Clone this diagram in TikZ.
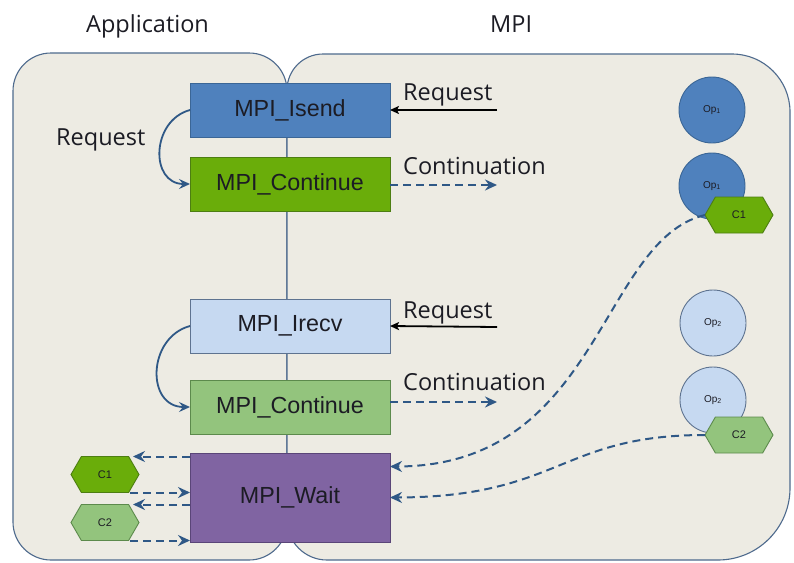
\documentclass[tikz,border=0pt]{standalone}
\usepackage{fontspec}
\setmainfont{Liberation Sans}
\newfontfamily\labelfont{Open Sans}
\usetikzlibrary{arrows.meta,shapes.symbols}
\definecolor{panelfill}{HTML}{EDEBE3}
\definecolor{paneldraw}{HTML}{4E6A8D}
\definecolor{isendc}{HTML}{4F81BD}
\definecolor{isendd}{HTML}{3B6696}
\definecolor{greenc}{HTML}{6AAD0A}
\definecolor{greend}{HTML}{4D7E12}
\definecolor{irecvc}{HTML}{C6D9F1}
\definecolor{irecvd}{HTML}{5E7390}
\definecolor{lgreenc}{HTML}{93C47D}
\definecolor{lgreend}{HTML}{5C8A4C}
\definecolor{waitc}{HTML}{8064A2}
\definecolor{waitd}{HTML}{5A4578}
\definecolor{arrowc}{HTML}{2F5886}
\definecolor{txtc}{HTML}{1C1C24}
\begin{document}
\begin{tikzpicture}[x=1pt,y=-1pt,
  panel/.style={fill=panelfill,draw=paneldraw,line width=1.1pt},
  box/.style={draw,line width=0.9pt,minimum width=200pt,minimum height=54pt,
    inner sep=0pt,outer sep=0pt,font=\fontsize{23.3}{26}\selectfont,text=txtc},
  lbl/.style={font=\labelfont\fontsize{23.5}{26}\selectfont,text=txtc,inner sep=0pt,anchor=base west},
  opcircle/.style={circle,draw,line width=0.9pt,minimum size=66pt,inner sep=0pt,
    font=\fontsize{10}{11}\selectfont,text=txtc},
  hexa/.style={signal,signal to=east and west,signal pointer angle=120,draw,line width=0.9pt,
    minimum width=68pt,minimum height=36pt,inner sep=0pt,outer sep=0pt,
    font=\fontsize{11}{12}\selectfont,text=txtc},
  dasharrow/.style={draw=arrowc,line width=2pt,dash pattern=on 8pt off 5pt,
    -{Stealth[length=12pt,width=11pt,inset=4pt]}},
  curvarrow/.style={draw=arrowc,line width=1.8pt,-{Stealth[length=11pt,width=10pt,inset=4pt]}},
  reqarrow/.style={draw=black,line width=1.8pt,-{Stealth[length=9pt,width=8pt,inset=2pt]}}
]
\useasboundingbox (0,0) rectangle (794,562);
\fill[white] (0,0) rectangle (794,562);

% panels
\draw[panel,rounded corners=38pt] (13,53) rectangle (287,560);
\draw[panel] (287,300) [rounded corners=36pt] -- (287,54) [rounded corners=58pt] -- (790,54)
  [rounded corners=72pt] -- (790,560) [rounded corners=40pt] -- (287,560) [sharp corners] -- cycle;

% titles
\node[lbl] (tapp) at (86,32) {Application};
\node[lbl] (tmpi) at (490,32) {MPI};

% main boxes
\node[box,fill=isendc,draw=isendd] (isend) at (290,110) {MPI\_Isend};
\node[box,fill=greenc,draw=greend] (cont1) at (290,184) {MPI\_Continue};
\node[box,fill=irecvc,draw=irecvd] (irecv) at (290,326) {MPI\_Irecv};
\node[box,fill=lgreenc,draw=lgreend] (cont2) at (290,407) {MPI\_Continue};
\node[box,fill=waitc,draw=waitd,minimum height=89pt] (wait) at (290,497.5) {MPI\_Wait};

% operation circles and continuation hexagons
\node[opcircle,fill=isendc,draw=isendd] (op1a) at (712,110) {Op\textsubscript{1}};
\node[opcircle,fill=isendc,draw=isendd] (op1b) at (712,186) {Op\textsubscript{1}};
\node[hexa,fill=greenc,draw=greend] (c1r) at (739,215) {C1};
\node[opcircle,fill=irecvc,draw=irecvd] (op2a) at (713,323) {Op\textsubscript{2}};
\node[opcircle,fill=irecvc,draw=irecvd] (op2b) at (713,400) {Op\textsubscript{2}};
\node[hexa,fill=lgreenc,draw=lgreend] (c2r) at (739,435) {C2};

\node[hexa,fill=greenc,draw=greend] (c1l) at (105,474.5) {C1};
\node[hexa,fill=lgreenc,draw=lgreend] (c2l) at (105,522.5) {C2};

% labels
\node[lbl] (lreq0) at (56,145) {Request};
\node[lbl] (lreq1) at (403,100) {Request};
\node[lbl] (lcont1) at (403,174) {Continuation};
\node[lbl] (lreq2) at (403,318) {Request};
\node[lbl] (lcont2) at (403,390) {Continuation};

% request / continuation arrows
\coordinate (r1) at (497,110);
\coordinate (k1) at (497,185);
\coordinate (r2) at (497,327);
\coordinate (k2) at (497,402);
\draw[reqarrow] (r1) -- (isend.east);
\draw[reqarrow] (r2) -- (irecv.east);
\draw[dasharrow] (cont1.east |- k1) -- (k1);
\draw[dasharrow] (cont2.east |- k2) -- (k2);

% curved request arrows
\draw[curvarrow] (isend.west) to[out=195,in=180,looseness=1.4] (cont1.west);
\draw[curvarrow] (irecv.west) to[out=195,in=180,looseness=1.4] (cont2.west);

% wait <-> continuations
\draw[dasharrow] (wait.west |- c1l.north) -- ([xshift=-6pt]c1l.east |- c1l.north);
\draw[dasharrow] ([xshift=25pt]c1l.south) -- (wait.west |- c1l.south);
\draw[dasharrow] (wait.west |- c2l.north) -- ([xshift=-6pt]c2l.east |- c2l.north);
\draw[dasharrow] ([xshift=25pt]c2l.south) -- (wait.west |- c2l.south);

% completions to wait
\draw[dasharrow] (c1r.west) .. controls (600,240) and (600,466) .. ([yshift=31pt]wait.east);
\draw[dasharrow] (c2r.west) .. controls (560,435) and (560,497) .. (wait.east);
\end{tikzpicture}
\end{document}
